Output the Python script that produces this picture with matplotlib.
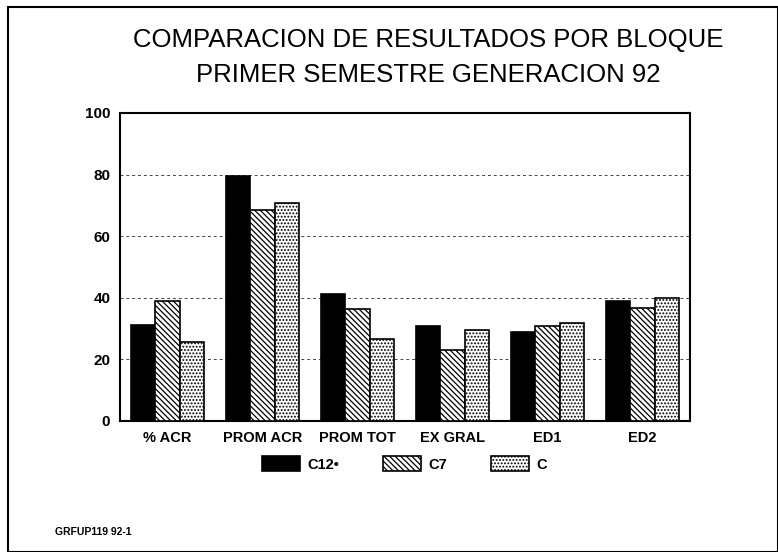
import numpy as np
import matplotlib.pyplot as plt
import matplotlib as mpl

mpl.rcParams['hatch.linewidth'] = 0.9
plt.rcParams['font.family'] = ['Liberation Sans', 'DejaVu Sans']

categories = ['% ACR', 'PROM ACR', 'PROM TOT', 'EX GRAL', 'ED1', 'ED2']
c12 = [31.2, 79.4, 41.3, 31.0, 28.9, 38.8]
c7 = [39.0, 68.4, 36.3, 23.0, 31.0, 36.8]
c = [25.7, 70.7, 26.6, 29.7, 31.8, 39.8]
series_names = ['C12\u2022', 'C7', 'C']
yticks = [0, 20, 40, 60, 80, 100]

fig = plt.figure(figsize=(7.78, 5.52), dpi=100)
ax = fig.add_axes([120 / 778, 1 - 421 / 552, 570 / 778, 308 / 552])

x = np.arange(len(categories))
w = 0.255
ax.bar(x - w, c12, w, color='black', edgecolor='black', linewidth=1.2, label=series_names[0], zorder=3)
ax.bar(x, c7, w, color='white', edgecolor='black', hatch='\\\\\\\\\\\\', linewidth=1.2, label=series_names[1], zorder=3)
ax.bar(x + w, c, w, color='white', edgecolor='black', hatch='.....', linewidth=1.2, label=series_names[2], zorder=3)

ax.set_xlim(-0.5, len(categories) - 0.5)
ax.set_ylim(0, 100)
ax.set_yticks(yticks)
ax.set_yticklabels([str(t) for t in yticks], fontweight='bold', fontsize=11)
ax.set_xticks(x)
ax.set_xticklabels(categories, fontweight='bold', fontsize=10.5)
ax.tick_params(axis='both', length=0, pad=7)
ax.yaxis.grid(True, color='#444444', linestyle=(0, (3, 3)), linewidth=0.7, zorder=0)
for s in ax.spines.values():
    s.set_linewidth(1.5)

fig.text(0.55, 1 - 40 / 552, 'COMPARACION DE RESULTADOS POR BLOQUE', ha='center', va='center', fontsize=18.5)
fig.text(0.55, 1 - 75 / 552, 'PRIMER SEMESTRE GENERACION 92', ha='center', va='center', fontsize=18.5)

fig.legend(loc='center', bbox_to_anchor=(0.52, 1 - 464 / 552), ncol=3, frameon=False,
           prop={'weight': 'bold', 'size': 10.5},
           handlelength=2.6, handleheight=1.2, columnspacing=3.0, handletextpad=0.5)

fig.text(55 / 778, 1 - 532 / 552, 'GRFUP119 92-1', ha='left', va='center', fontsize=7.5, fontweight='bold')

# page frame
fig.add_artist(plt.Rectangle((8 / 778, 0.0), 770 / 778, 1 - 7 / 552, transform=fig.transFigure,
                             fill=False, edgecolor='black', linewidth=1.5))

fig.savefig('out.png', dpi=100)
